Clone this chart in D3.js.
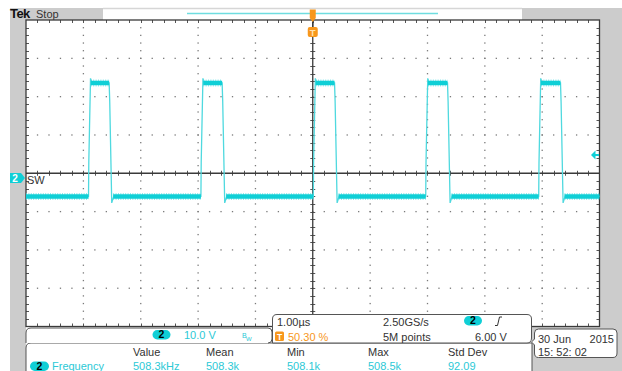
<!DOCTYPE html>
<html>
<head>
<meta charset="utf-8">
<script src="https://cdn.jsdelivr.net/npm/d3@7/dist/d3.min.js"></script>
<style>
  html, body { margin: 0; padding: 0; background: #fff; }
  svg { display: block; font-family: "Liberation Sans", Arial, sans-serif; }
</style>
</head>
<body>
<svg id="scope" width="622" height="371"></svg>
<script>
// ---- acquisition settings / readouts ----
const timePerDiv = 1.0;          // µs per division
const voltsPerDiv = 10.0;        // V per division, channel 2
const hDivs = 10, vDivs = 8;
const triggerLevel = 6.0;        // V

// ---- SW node waveform (channel 2), times in µs, levels in V ----
const riseTimes = [-3.91, -1.95, 0.01, 1.97, 3.94];
const fallTimes = [-3.55, -1.58, 0.38, 2.35, 4.32];
const highLevel = 24.8;
const lowLevel = -4.8;
const riseStepLevel = 4.0;       // short shelf partway up the rising edge
const fallStepLevel = 20.0;      // shelf partway down the falling edge
const riseOvershoot = 26.0;
const fallUndershoot = -6.5;

// ---- measurement table ----
const measHeaders = ["Value", "Mean", "Min", "Max", "Std Dev"];
const measValues  = ["508.3kHz", "508.3k", "508.1k", "508.5k", "92.09"];
const measName = "Frequency";

// ---- readout text ----
const timebaseText = "1.00\u00b5s";
const triggerPosText = "50.30 %";
const sampleRateText = "2.50GS/s";
const recordText = "5M points";
const trigLevelText = "6.00 V";
const chScaleText = "10.0 V";
const dateText = ["30 Jun", "2015"];
const timeText = "15: 52: 02";

const CYAN = "#0fcfd6";
const CYAN_TXT = "#2cc9d6";
const ORANGE = "#f7971c";
const GRAY_BG = "#cccccc";
const FRAME = "#3a3a3a";

const svg = d3.select("#scope");

// graticule area
const gx0 = 26, gx1 = 599.5, gy0 = 20, gy1 = 326.5;
const x = d3.scaleLinear().domain([-hDivs / 2 * timePerDiv, hDivs / 2 * timePerDiv]).range([gx0, gx1]);
// channel 2 ground sits slightly below screen centre
const groundY = 178;
const pxPerDiv = (gy1 - gy0) / vDivs;
const y = d3.scaleLinear()
  .domain([-(gy1 - groundY) / pxPerDiv * voltsPerDiv, (groundY - gy0) / pxPerDiv * voltsPerDiv])
  .range([gy1, gy0]);
const divX = (gx1 - gx0) / hDivs, divY = pxPerDiv;

// ---- background panels ----
svg.append("rect").attr("x", 10).attr("y", 8).attr("width", 16).attr("height", 363).attr("fill", GRAY_BG);
svg.append("rect").attr("x", 10).attr("y", 8).attr("width", 93).attr("height", 12).attr("fill", GRAY_BG);
svg.append("rect").attr("x", 522).attr("y", 8).attr("width", 100).attr("height", 12).attr("fill", GRAY_BG);
svg.append("rect").attr("x", gx1).attr("y", 8).attr("width", 622 - gx1).attr("height", 363).attr("fill", GRAY_BG);
svg.append("rect").attr("x", 532).attr("y", 327).attr("width", 90).attr("height", 44).attr("fill", GRAY_BG);
svg.append("line").attr("x1", 103).attr("x2", 522).attr("y1", 8.5).attr("y2", 8.5).attr("stroke", "#d6d6d6").attr("stroke-width", 1.5);

// top status
svg.append("text").attr("x", 10).attr("y", 18).attr("font-size", 13).attr("font-weight", "bold")
  .attr("letter-spacing", -0.6).attr("fill", "#111").text("Tek");
svg.append("text").attr("x", 36).attr("y", 18).attr("font-size", 11).attr("fill", "#333").text("Stop");

// record view bar
svg.append("line").attr("x1", 187).attr("x2", 438).attr("y1", 13.5).attr("y2", 13.5)
  .attr("stroke", "#6fdde0").attr("stroke-width", 1.5);

// ---- graticule ----
const g = svg.append("g");
const dots = g.append("g").attr("fill", "#7a7a7a");
for (let i = 1; i < hDivs; i++) {
  if (i === hDivs / 2) continue;
  const xx = gx0 + i * divX;
  for (let k = 1; k < vDivs * 5; k++) {
    dots.append("rect").attr("x", xx - 0.6).attr("y", gy0 + k * divY / 5 - 0.6).attr("width", 1.3).attr("height", 1.3);
  }
}
for (let j = 1; j < vDivs; j++) {
  if (j === vDivs / 2) continue;
  const yy = gy0 + j * divY;
  for (let k = 1; k < hDivs * 5; k++) {
    dots.append("rect").attr("x", gx0 + k * divX / 5 - 0.6).attr("y", yy - 0.6).attr("width", 1.3).attr("height", 1.3);
  }
}
// frame ticks
const ticks = g.append("g").attr("stroke", "#555").attr("stroke-width", 1);
for (let k = 1; k < hDivs * 5; k++) {
  const xx = Math.round(gx0 + k * divX / 5) + 0.5;
  ticks.append("line").attr("x1", xx).attr("x2", xx).attr("y1", gy0).attr("y2", gy0 + 3);
  ticks.append("line").attr("x1", xx).attr("x2", xx).attr("y1", gy1 - 3).attr("y2", gy1);
  const cy = gy0 + vDivs / 2 * divY;
  ticks.append("line").attr("x1", xx).attr("x2", xx).attr("y1", cy - 2.5).attr("y2", cy + 2.5);
}
for (let k = 1; k < vDivs * 5; k++) {
  const yy = Math.round(gy0 + k * divY / 5) + 0.5;
  ticks.append("line").attr("x1", gx0).attr("x2", gx0 + 3).attr("y1", yy).attr("y2", yy);
  ticks.append("line").attr("x1", gx1 - 3).attr("x2", gx1).attr("y1", yy).attr("y2", yy);
  const cx = gx0 + hDivs / 2 * divX;
  ticks.append("line").attr("x1", cx - 2.5).attr("x2", cx + 2.5).attr("y1", yy).attr("y2", yy);
}
// centre axes
const cxp = x(0), cyp = gy0 + vDivs / 2 * divY;
g.append("line").attr("x1", gx0).attr("x2", gx1).attr("y1", cyp).attr("y2", cyp).attr("stroke", FRAME).attr("stroke-width", 1.3);
g.append("line").attr("x1", cxp).attr("x2", cxp).attr("y1", gy0).attr("y2", gy1).attr("stroke", FRAME).attr("stroke-width", 1.3);
// frame
g.append("rect").attr("x", gx0).attr("y", gy0).attr("width", gx1 - gx0).attr("height", gy1 - gy0)
  .attr("fill", "none").attr("stroke", FRAME).attr("stroke-width", 1.3);

// ---- waveform ----
const trace = [[x.domain()[0], lowLevel]];
riseTimes.forEach((tr, i) => {
  const tf = fallTimes[i];
  trace.push([tr, lowLevel], [tr + 0.005, riseStepLevel], [tr + 0.035, riseOvershoot], [tr + 0.06, highLevel]);
  trace.push([tf, highLevel], [tf + 0.01, fallStepLevel], [tf + 0.045, fallUndershoot], [tf + 0.08, lowLevel]);
});
trace.push([x.domain()[1], lowLevel]);

const line = d3.line().x(d => x(d[0])).y(d => y(d[1]));
const wave = svg.append("g");
wave.append("path").attr("d", line(trace)).attr("fill", "none").attr("stroke", "#4fd9df").attr("stroke-width", 1.3);

// flat portions drawn as a noisy-looking band
const segs = [];
segs.push([[x.domain()[0], lowLevel], [riseTimes[0], lowLevel]]);
riseTimes.forEach((tr, i) => {
  segs.push([[tr + 0.04, highLevel], [fallTimes[i], highLevel]]);
  const next = i + 1 < riseTimes.length ? riseTimes[i + 1] : x.domain()[1];
  segs.push([[fallTimes[i] + 0.07, lowLevel], [next, lowLevel]]);
});
segs.forEach(s => {
  wave.append("path").attr("d", line(s)).attr("fill", "none").attr("stroke", "#5fe0e6")
    .attr("stroke-width", 7).attr("stroke-dasharray", "1 1.4").attr("opacity", 0.7);
  wave.append("path").attr("d", line(s)).attr("fill", "none").attr("stroke", CYAN).attr("stroke-width", 4.5);
});

// ---- markers ----
// channel 2 ground marker
svg.append("path").attr("d", `M10,${groundY - 5}H21L25,${groundY}L21,${groundY + 5}H10Z`).attr("fill", CYAN);
svg.append("text").attr("x", 15).attr("y", groundY + 4).attr("text-anchor", "middle").attr("font-size", 10)
  .attr("font-weight", "bold").attr("fill", "#fff").text("2");
svg.append("text").attr("x", 27).attr("y", 183.5).attr("font-size", 11).attr("fill", "#333").text("SW");

// trigger level arrow
const ty = y(triggerLevel);
svg.append("path").attr("d", `M591,${ty}L595.5,${ty - 4.5}V${ty + 4.5}Z`).attr("fill", CYAN);
svg.append("line").attr("x1", 595).attr("x2", 599).attr("y1", ty).attr("y2", ty).attr("stroke", CYAN).attr("stroke-width", 2);

// trigger position markers
svg.append("path").attr("d", `M${cxp - 3},9.5H${cxp + 3}V18L${cxp},22L${cxp - 3},18Z`).attr("fill", ORANGE);
svg.append("line").attr("x1", cxp).attr("x2", cxp).attr("y1", 22).attr("y2", 27).attr("stroke", FRAME).attr("stroke-width", 1.3);
svg.append("rect").attr("x", cxp - 5).attr("y", 27).attr("width", 10).attr("height", 10).attr("rx", 2).attr("fill", ORANGE);
svg.append("text").attr("x", cxp).attr("y", 35.5).attr("text-anchor", "middle").attr("font-size", 9.5)
  .attr("font-weight", "bold").attr("fill", "#ffe2b0").text("T");

// ---- readout boxes ----
const box = (d) => svg.append("path").attr("d", d).attr("fill", "#fff").attr("stroke", "#555").attr("stroke-width", 1);
// measurement panel
box("M26,371V348Q26,343 31,343H532V371");
// channel panel
box("M26,343V333Q26,328 31,328H268Q272,328 272,332V339Q272,343 268,343");
// timebase / trigger panel
box("M272.5,343V319Q272.5,314.5 277,314.5H527Q531.5,314.5 531.5,319V338Q531.5,343 527,343Z");
// date panel
box("M534.5,333Q534.5,329 538.5,329H613Q617,329 617,333V353Q617,357.5 613,357.5H538.5Q534.5,357.5 534.5,353V345L531.5,342L534.5,339Z");

const txt = (xx, yy, s, fill, opts = {}) => {
  const t = svg.append("text").attr("x", xx).attr("y", yy).attr("font-size", opts.size || 11)
    .attr("fill", fill).text(s);
  if (opts.anchor) t.attr("text-anchor", opts.anchor);
  if (opts.weight) t.attr("font-weight", opts.weight);
  return t;
};
const pill = (xx, yy, w, h) => {
  svg.append("rect").attr("x", xx).attr("y", yy).attr("width", w).attr("height", h).attr("rx", h / 2).attr("fill", CYAN);
  txt(xx + w / 2, yy + h - 1.5, "2", "#000", { anchor: "middle", weight: "bold", size: 10.5 });
};

// channel scale
pill(152.5, 330, 18, 9.5);
txt(184, 339, chScaleText, CYAN_TXT);
txt(242, 338, "B", CYAN_TXT, { size: 7 });
txt(246, 341, "W", CYAN_TXT, { size: 6 });

// timebase and trigger
txt(277, 326, timebaseText, "#333");
svg.append("rect").attr("x", 275).attr("y", 331.5).attr("width", 9).attr("height", 9.5).attr("rx", 1.5).attr("fill", ORANGE);
txt(279.5, 339.8, "T", "#fff", { anchor: "middle", weight: "bold", size: 8.5 });
txt(288, 341, triggerPosText, ORANGE);
txt(383, 326, sampleRateText, "#333");
txt(383, 341, recordText, "#333");
pill(464, 316, 18, 9.5);
svg.append("path").attr("d", "M495,325.5H497.5L499.5,317H502").attr("fill", "none").attr("stroke", "#333").attr("stroke-width", 1);
txt(475, 341, trigLevelText, "#333");

// date / time
txt(538, 343, dateText[0], "#333");
txt(614, 343, dateText[1], "#333", { anchor: "end" });
txt(538, 356, timeText, "#333");

// measurements
const colX = [133, 206, 287, 368, 448];
measHeaders.forEach((h, i) => txt(colX[i], 356, h, "#333"));
measValues.forEach((v, i) => txt(colX[i], 370, v, CYAN_TXT));
pill(30, 361.5, 19, 9.5);
txt(52, 370, measName, CYAN_TXT);
</script>
</body>
</html>
